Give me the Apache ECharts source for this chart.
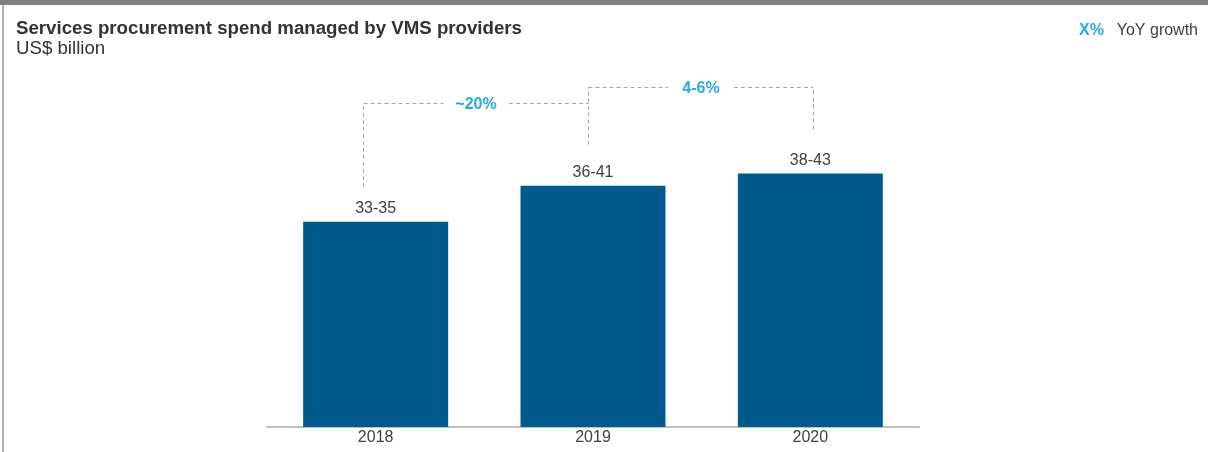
<!DOCTYPE html>
<html>
<head>
<meta charset="utf-8">
<script src="https://cdn.jsdelivr.net/npm/echarts@6/dist/echarts.min.js"></script>
<style>
html,body{margin:0;padding:0;background:#fff;}
#chart{width:1208px;height:452px;}
</style>
</head>
<body>
<div id="chart"></div>
<script>
// ---- data ----
const categories = ['2018', '2019', '2020'];
const spendValues = [34, 40, 42];            // bar heights (US$ bn, approx midpoint)
const spendLabels = ['33-35', '36-41', '38-43'];
const growthLabels = ['~20%', '4-6%'];       // YoY growth between consecutive years
const connectorBase = [39.8, 46.8, 49.3];    // where each dashed drop ends (value units)
const bracketLevels = [53.7, 56.4];          // bracket heights (value units)

// ---- style / layout ----
const FONT = '"Liberation Sans", Arial, sans-serif';
const BLUE = '#29a9e1';
const BAR = '#005a8c';
const connectorNudgePx = [-13, -5, 3];       // small horizontal offsets of the dashed drops

const chart = echarts.init(document.getElementById('chart'), null, {renderer: 'canvas'});

const baseGraphic = [
  {type: 'rect', left: 0, top: 0, shape: {width: 1208, height: 5}, style: {fill: '#7f7f7f'}, silent: true},
  {type: 'rect', left: 2, top: 5, shape: {width: 2, height: 447}, style: {fill: '#b3b3b3'}, silent: true},
  {type: 'text', right: 104, top: 23, style: {text: 'X%', font: 'bold 16px ' + FONT, fill: BLUE}},
  {type: 'text', right: 10, top: 23, style: {text: 'YoY growth', font: '16px ' + FONT, fill: '#404040'}}
];

const option = {
  animation: false,
  backgroundColor: '#fff',
  title: {
    text: 'Services procurement spend managed by VMS providers',
    subtext: 'US$ billion',
    left: 11, top: 14,
    itemGap: 0,
    textStyle: {fontFamily: FONT, fontSize: 18.67, fontWeight: 'bold', color: '#333', lineHeight: 20},
    subtextStyle: {fontFamily: FONT, fontSize: 18.67, color: '#333', lineHeight: 20}
  },
  grid: {left: 267, right: 289, top: 65, bottom: 25},
  xAxis: {
    type: 'category',
    data: categories,
    axisLine: {lineStyle: {color: '#bfbfbf', width: 2}},
    axisTick: {show: false},
    axisLabel: {fontFamily: FONT, fontSize: 16, color: '#404040', margin: 3}
  },
  yAxis: {type: 'value', min: 0, max: 60, show: false, splitLine: {show: false}},
  series: [{
    type: 'bar',
    data: spendValues,
    barWidth: 145,
    itemStyle: {color: BAR},
    label: {
      show: true, position: 'top', distance: 5,
      formatter: p => spendLabels[p.dataIndex],
      fontFamily: FONT, fontSize: 16, color: '#404040'
    }
  }],
  graphic: baseGraphic
};
chart.setOption(option);

// ---- dashed growth brackets, positioned through the chart's own scales ----
function px(i, v) {
  const p = chart.convertToPixel({gridIndex: 0}, [i, v]);
  return [Math.round(p[0] + connectorNudgePx[i]) + 0.5, p[1]];
}
const dash = {stroke: '#a6a6a6', lineWidth: 1, lineDash: [4, 3], fill: null};
const extra = [];
categories.forEach((c, j) => {
  const levels = [];
  if (j - 1 >= 0 && j - 1 < bracketLevels.length) levels.push(bracketLevels[j - 1]);
  if (j < bracketLevels.length) levels.push(bracketLevels[j]);
  const top = Math.max(...levels);
  const a = px(j, connectorBase[j]);
  const b = px(j, top);
  extra.push({type: 'line', silent: true, shape: {x1: a[0], y1: a[1], x2: a[0], y2: Math.round(b[1]) + 0.5}, style: dash});
});
growthLabels.forEach((lab, i) => {
  const l = px(i, bracketLevels[i]);
  const r = px(i + 1, bracketLevels[i]);
  const y = Math.round(l[1]) + 0.5;
  const mid = (l[0] + r[0]) / 2;
  const gap = 33;
  extra.push({type: 'line', silent: true, shape: {x1: l[0], y1: y, x2: mid - gap, y2: y}, style: dash});
  extra.push({type: 'line', silent: true, shape: {x1: mid + gap, y1: y, x2: r[0], y2: y}, style: dash});
  extra.push({type: 'text', silent: true, x: mid, y: y + 1.5,
    style: {text: lab, font: 'bold 16px ' + FONT, fill: BLUE, textAlign: 'center', textVerticalAlign: 'middle'}});
});
chart.setOption({graphic: baseGraphic.concat(extra)}, {replaceMerge: ['graphic']});
</script>
</body>
</html>
